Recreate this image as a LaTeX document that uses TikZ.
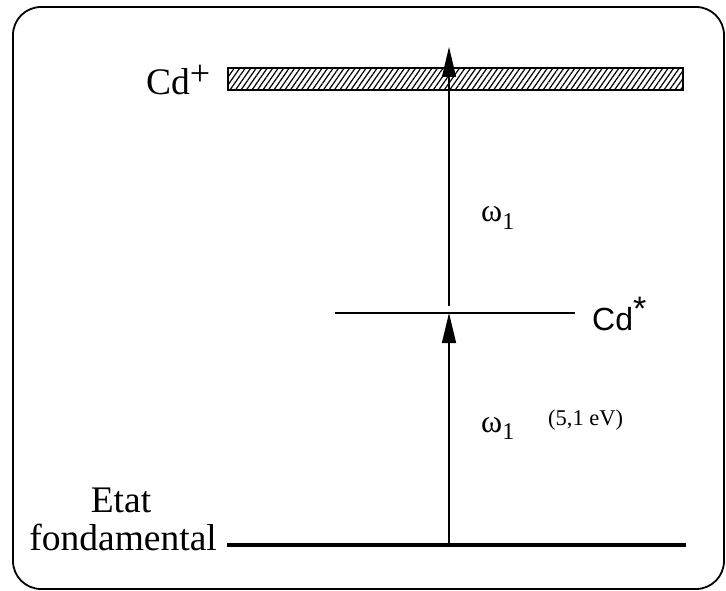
\documentclass[tikz,border=0pt]{standalone}
\usepackage{fontspec}
\setmainfont{Liberation Serif}
\setsansfont{Liberation Sans}
\usetikzlibrary{arrows.meta,patterns.meta}
\tikzset{
  lvl/.style={line width=1.6pt},
  trans/.style={line width=1.4pt,-{Triangle[length=30pt,width=14pt]}},
  serlab/.style={inner sep=0pt,font=\fontsize{37.5}{40}\selectfont},
  omlab/.style={inner sep=0pt,font=\fontsize{32}{34}\selectfont},
}
\begin{document}
\begin{tikzpicture}[x=1pt,y=-1pt]
\useasboundingbox (0,0) rectangle (726,591);
% frame
\draw[line width=1.8pt,rounded corners=28pt] (13,7) rectangle (724,589);
% Cd+ band
\draw[line width=1.8pt,pattern={Lines[angle=55,distance=4.5pt,line width=1.2pt]}] (228,68) rectangle (683,90);
% levels
\coordinate (g1) at (227,545);
\coordinate (g2) at (686,545);
\draw[line width=4pt] (g1) -- (g2);
\coordinate (e1) at (335,313);
\coordinate (e2) at (575,313);
\draw[lvl] (e1) -- (e2);
% transitions
\coordinate (a0) at (449,545);
\coordinate (a1) at (449,313);
\coordinate (b0) at (449,306);
\coordinate (a2) at (449,47);
\draw[trans] (a0) -- (a1);
\draw[trans] (b0) -- (a2);
% labels
\node[serlab,anchor=base west] (cdp) at (146,95) {Cd$^{\hbox{\fontsize{36}{38}\selectfont+}}$};
\node[inner sep=0pt,anchor=base west,font=\sffamily\fontsize{32}{34}\selectfont] (cds) at (592,330) {Cd$^{\hbox{\fontsize{34}{36}\selectfont*}}$};
\node[omlab,anchor=base west] (w1) at (481,222) {ω$_{\hbox{\fontsize{24}{26}\selectfont 1}}$};
\node[omlab,anchor=base west] (w2) at (481,432) {ω$_{\hbox{\fontsize{24}{26}\selectfont 1}}$};
\node[inner sep=0pt,anchor=base west,font=\fontsize{22.5}{24}\selectfont] (ev) at (548,425) {(5,1 eV)};
\node[serlab,anchor=base] (etat) at (121,512) {Etat};
\node[serlab,anchor=base east] (fond) at (217,550) {fondamental};
\end{tikzpicture}
\end{document}
